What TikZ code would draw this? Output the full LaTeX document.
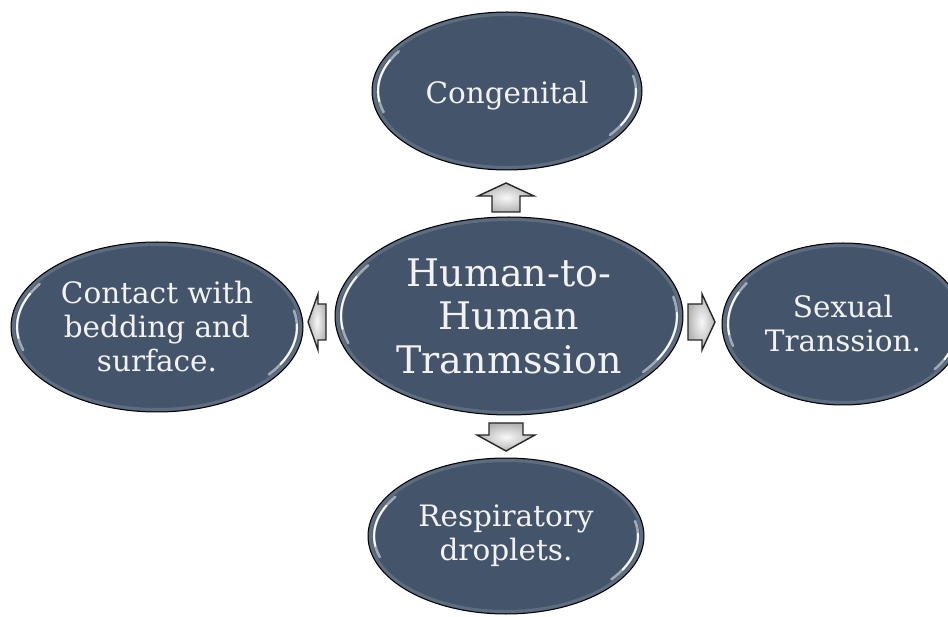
\documentclass[tikz,border=0pt]{standalone}
\usepackage{fontspec}
\setmainfont{DejaVu Serif}
\usetikzlibrary{shapes.geometric,calc}
\definecolor{slate}{HTML}{44546A}
\definecolor{capt}{HTML}{F2F2F2}
\begin{document}
\begin{tikzpicture}[x=1pt,y=-1pt,
  bubble/.style={ellipse, draw=black, line width=1pt, fill=slate, text=capt,
    inner sep=0pt, align=center},
  bigtext/.style={font=\fontsize{38}{43.5}\selectfont},
  smalltext/.style={font=\fontsize{29.5}{34}\selectfont},
  glow/.style={white, line width=3pt, opacity=0.14},
  gloss/.style={white, line cap=round, line width=2.6pt, opacity=0.5},
  glossbright/.style={white, line cap=round, line width=1.9pt, opacity=0.92},
  blockarr/.style={draw=black!85, line width=1.4pt, line join=miter,
    inner color=gray!5, outer color=gray!60}
]
\useasboundingbox (0,0) rectangle (948,617);
\clip (0,0) rectangle (948,617);

% hub and the four routes
\node[bubble, bigtext, minimum width=348pt, minimum height=198pt] (hub) at (509,316)
  {Human-to-\\Human\\Tranmssion};
\node[bubble, smalltext, minimum width=270pt, minimum height=158pt] (cong) at (507,91)
  {\raisebox{-4pt}[0.75em][0.2em]{Congenital}};
\node[bubble, smalltext, minimum width=292pt, minimum height=170pt] (contact) at (157,327)
  {Contact with\\bedding and\\surface.};
\node[bubble, smalltext, minimum width=242pt, minimum height=162pt] (sexual) at (843,324)
  {Sexual\\Transsion.};
\node[bubble, smalltext, minimum width=276pt, minimum height=156pt] (resp) at (506,536)
  {Respiratory\\droplets.};

% glossy rims on every bubble
\foreach \n/\rx/\ry in {hub/174/99, cong/135/79, contact/146/85, sexual/121/81, resp/138/78}{
  \draw[glow] (\n.center) ellipse [x radius=\rx-2.5, y radius=\ry-2.5];
  \draw[gloss] (\n.center) ++(213:{\rx-6} and {\ry-6})
    arc[start angle=213, end angle=163, x radius=\rx-6, y radius=\ry-6];
  \draw[glossbright] (\n.center) ++(205:{\rx-6} and {\ry-6})
    arc[start angle=205, end angle=172, x radius=\rx-6, y radius=\ry-6];
  \draw[gloss] (\n.center) ++(37:{\rx-6} and {\ry-6})
    arc[start angle=37, end angle=-12, x radius=\rx-6, y radius=\ry-6];
  \draw[glossbright] (\n.center) ++(28:{\rx-6} and {\ry-6})
    arc[start angle=28, end angle=-2, x radius=\rx-6, y radius=\ry-6];
}

% block arrows from the hub outwards, each drawn around a named anchor point
\coordinate (toCong) at (506,197);
\coordinate (toResp) at (506,437);
\coordinate (toContact) at (317,322);
\coordinate (toSexual) at (701,322);

\draw[blockarr] (toCong) ++(0,-14) -- ++(28,13) -- ++(-14,0) -- ++(0,16)
  -- ++(-28,0) -- ++(0,-16) -- ++(-14,0) -- cycle;
\draw[blockarr] (toResp) ++(0,14) -- ++(29,-16) -- ++(-12,0) -- ++(0,-12)
  -- ++(-34,0) -- ++(0,12) -- ++(-12,0) -- cycle;
\draw[blockarr] (toContact) ++(-9,0) -- ++(10,-28) -- ++(0,10) -- ++(8,0)
  -- ++(0,36) -- ++(-8,0) -- ++(0,10) -- cycle;
\draw[blockarr] (toSexual) ++(14,0) -- ++(-13,-28) -- ++(0,10) -- ++(-14,0)
  -- ++(0,36) -- ++(14,0) -- ++(0,10) -- cycle;
\end{tikzpicture}
\end{document}
